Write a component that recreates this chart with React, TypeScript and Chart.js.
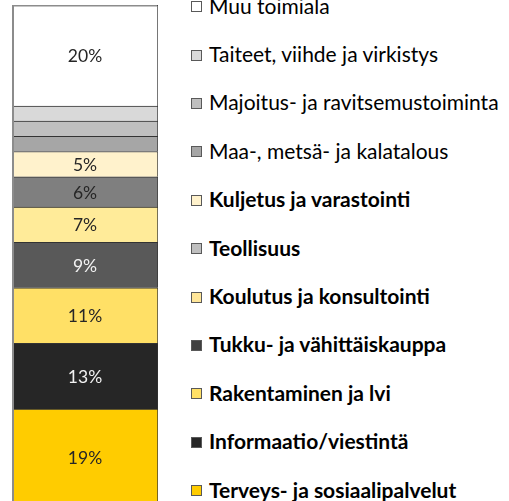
import React, { useEffect, useRef } from "react";
import { Chart, registerables } from "chart.js";

Chart.register(...registerables);

// Segments listed bottom-to-top of the stacked bar
const categories = [
  "Terveys- ja sosiaalipalvelut",
  "Informaatio/viestintä",
  "Rakentaminen ja lvi",
  "Tukku- ja vähittäiskauppa",
  "Koulutus ja konsultointi",
  "Teollisuus",
  "Kuljetus ja varastointi",
  "Maa-, metsä- ja kalatalous",
  "Majoitus- ja ravitsemustoiminta",
  "Taiteet, viihde ja virkistys",
  "Muu toimiala",
];
const shares = [19, 13, 11, 9, 7, 6, 5, 3, 3, 3, 20];
const barColors = [
  "#FFCC00",
  "#262626",
  "#FFE066",
  "#595959",
  "#FFEB99",
  "#7F7F7F",
  "#FFF2CC",
  "#A6A6A6",
  "#BFBFBF",
  "#D9D9D9",
  "#FFFFFF",
];
const legendColors = [
  "#FFCC00",
  "#262626",
  "#FFE066",
  "#404040",
  "#FFE699",
  "#BFBFBF",
  "#FFF2CC",
  "#A6A6A6",
  "#BFBFBF",
  "#D9D9D9",
  "#FFFFFF",
];
const boldLegend = [true, true, true, true, true, true, true, false, false, false, false];
const darkSegments = ["#262626", "#595959"];

const labelPlugin = {
  id: "segLabels",
  afterDatasetsDraw(chart: any) {
    const ctx = chart.ctx;
    const area = chart.chartArea;
    ctx.save();
    chart.data.datasets.forEach((ds: any, i: number) => {
      const v = ds.data[0];
      if (v < 4) return;
      const el = chart.getDatasetMeta(i).data[0];
      const yc = (el.y + el.base) / 2 + 1;
      ctx.font = "17.5px Lato";
      ctx.textAlign = "center";
      ctx.textBaseline = "middle";
      ctx.fillStyle = darkSegments.includes(ds.backgroundColor) ? "#F2F2F2" : "#262626";
      ctx.fillText(`${v}%`, el.x, yc);
    });
    // left edge and top edge in gray
    ctx.strokeStyle = "#8C8C8C";
    ctx.lineWidth = 2;
    ctx.beginPath();
    ctx.moveTo(area.left + 1, area.top);
    ctx.lineTo(area.left + 1, area.bottom + 10);
    ctx.stroke();
    ctx.lineWidth = 1.5;
    ctx.beginPath();
    ctx.moveTo(area.left, area.top + 0.75);
    ctx.lineTo(area.right - 1, area.top + 0.75);
    ctx.stroke();
    ctx.restore();
  },
};

export default function App() {
  const ref = useRef<HTMLCanvasElement | null>(null);

  useEffect(() => {
    if (!ref.current) return;
    const total = shares.reduce((a, b) => a + b, 0);
    const chart = new Chart(ref.current, {
      type: "bar",
      data: {
        labels: [""],
        datasets: categories.map((c, i) => ({
          label: c,
          data: [shares[i]],
          backgroundColor: barColors[i],
          borderColor: "#333333",
          borderWidth: { top: 1, right: 1, left: 0, bottom: 0 },
          borderSkipped: false,
          barPercentage: 1,
          categoryPercentage: 1,
        })),
      },
      options: {
        responsive: false,
        animation: false,
        layout: { padding: { left: 12, right: 12, top: 5, bottom: 5 } },
        plugins: { legend: { display: false }, tooltip: { enabled: false } },
        scales: {
          x: { stacked: true, display: false },
          y: { stacked: true, display: false, min: 0, max: total },
        },
      },
      plugins: [labelPlugin],
    });
    return () => chart.destroy();
  }, []);

  const legendItems = categories
    .map((c, i) => ({ c, i }))
    .reverse();

  return (
    <div
      style={{
        position: "fixed",
        left: 0,
        top: 0,
        width: 509,
        height: 501,
        overflow: "hidden",
        background: "#fff",
      }}
    >
      <canvas
        ref={ref}
        width={170}
        height={510}
        style={{ position: "absolute", left: 0, top: 0 }}
      />
      {legendItems.map(({ c, i }, k) => {
        const center = 6.6 + k * 48.4;
        return (
          <div
            key={c}
            style={{
              position: "absolute",
              left: 191,
              top: center - 15,
              height: 30,
              display: "flex",
              alignItems: "center",
              whiteSpace: "nowrap",
              fontFamily: "Lato",
              fontSize: 21,
              lineHeight: "30px",
              fontWeight: boldLegend[i] ? 700 : 400,
              color: "#000",
            }}
          >
            <span
              style={{
                display: "inline-block",
                width: 9,
                height: 9,
                background: legendColors[i],
                border: "1px solid #595959",
                marginRight: 7,
              }}
            />
            <span style={{ position: "relative", top: -1 }}>{c}</span>
          </div>
        );
      })}
    </div>
  );
}
